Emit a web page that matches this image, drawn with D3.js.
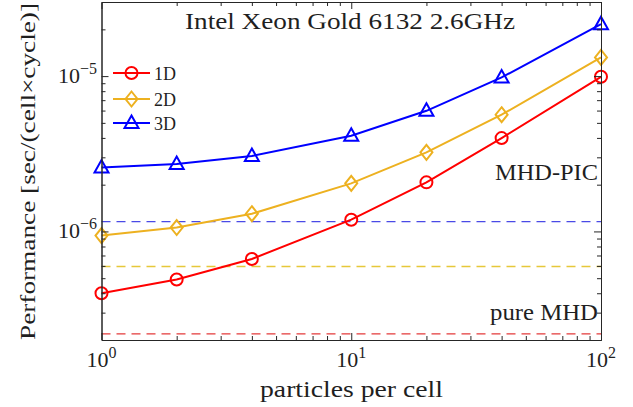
<!DOCTYPE html>
<html>
<head>
<meta charset="utf-8">
<script src="https://cdn.jsdelivr.net/npm/d3@7"></script>
<style>
  body { margin: 0; background: #fff; }
  text { font-family: "Liberation Serif", serif; fill: #1f1f1f; }
</style>
</head>
<body>
<svg id="chart" width="633" height="407"></svg>
<script>
// Particles per cell (x) and cost per cell per cycle (y)
const particles = [1, 2, 4, 10, 20, 40, 100];
const perf1D = [4.0e-7, 4.9e-7, 6.65e-7, 1.19e-6, 2.07e-6, 3.99e-6, 9.9e-6];
const perf2D = [9.4e-7, 1.06e-6, 1.30e-6, 2.04e-6, 3.23e-6, 5.64e-6, 1.32e-5];
const perf3D = [2.58e-6, 2.72e-6, 3.06e-6, 4.13e-6, 5.98e-6, 9.8e-6, 2.16e-5];
// Reference cost of the pure MHD runs (1D, 2D, 3D)
const pureMHD = [2.19e-7, 5.94e-7, 1.156e-6];
const seriesNames = ["1D", "2D", "3D"];
const xMajorTicks = [1, 10, 100];
const yMajorTicks = [1e-6, 1e-5];
const xMinorTicks = [2, 3, 4, 5, 6, 7, 8, 9, 20, 30, 40, 50, 60, 70, 80, 90];
const yMinorTicks = [3e-7, 4e-7, 5e-7, 6e-7, 7e-7, 8e-7, 9e-7,
                     2e-6, 3e-6, 4e-6, 5e-6, 6e-6, 7e-6, 8e-6, 9e-6, 2e-5];
const titleText = "Intel Xeon Gold 6132 2.6GHz";
const xLabel = "particles per cell";
const yLabel = "Performance [sec/(cell\u00d7cycle)]";

const lineColors = ["#ff0000", "#edb120", "#0000ff"];
const dashColors = ["#e33a3a", "#e6c83a", "#4a4ae6"];
const markers = ["circle", "diamond", "triangle"];

const svg = d3.select("#chart");
const plot = { left: 101.5, right: 601, top: 2, bottom: 340 };

const x = d3.scaleLog().domain([1, 100]).range([plot.left, plot.right]);
const y = d3.scaleLog().domain([2e-7, 3e-5]).range([plot.bottom, plot.top]);

const axisColor = "#262626";

// Reference pure-MHD levels (dashed)
svg.append("g").selectAll("line").data(pureMHD).join("line")
  .attr("x1", plot.left).attr("x2", plot.right)
  .attr("y1", d => y(d)).attr("y2", d => y(d))
  .attr("stroke", (d, i) => dashColors[i])
  .attr("stroke-width", 1.4)
  .attr("stroke-dasharray", "9,6");

// Marker shapes
function markerPath(kind) {
  if (kind === "circle") return d3.symbol(d3.symbolCircle, Math.PI * 6 * 6)();
  if (kind === "diamond") return "M0,-7.5L6,0L0,7.5L-6,0Z";
  return "M0,-7.5L7,5L-7,5Z";
}

const allSeries = [perf1D, perf2D, perf3D];
const line = d3.line().x((d, i) => x(particles[i])).y(d => y(d));

allSeries.forEach((vals, s) => {
  const g = svg.append("g");
  g.append("path").datum(vals)
    .attr("d", line)
    .attr("fill", "none")
    .attr("stroke", lineColors[s])
    .attr("stroke-width", 2);
  g.selectAll("path.m").data(vals).join("path")
    .attr("class", "m")
    .attr("transform", (d, i) => `translate(${x(particles[i])},${y(d)})`)
    .attr("d", markerPath(markers[s]))
    .attr("fill", "none")
    .attr("stroke", lineColors[s])
    .attr("stroke-width", 2);
});

// Axes: ticks point inward, box on all four sides
function styleAxis(g) {
  g.selectAll("path.domain").attr("stroke", axisColor);
  g.selectAll(".tick line").attr("stroke", axisColor);
  g.selectAll(".tick text").remove();
}
function addAxis(axisFn, pos, ticks, len) {
  const isX = axisFn === d3.axisBottom || axisFn === d3.axisTop;
  const scale = isX ? x : y;
  svg.append("g")
    .attr("transform", isX ? `translate(0,${pos})` : `translate(${pos},0)`)
    .call(axisFn(scale).tickValues(ticks).tickSizeInner(-len).tickSizeOuter(0).tickFormat(""))
    .call(styleAxis);
}
addAxis(d3.axisBottom, plot.bottom, xMajorTicks, 7);
addAxis(d3.axisBottom, plot.bottom, xMinorTicks, 4);
addAxis(d3.axisTop, plot.top, xMajorTicks, 7);
addAxis(d3.axisTop, plot.top, xMinorTicks, 4);
addAxis(d3.axisLeft, plot.left, yMajorTicks, 7);
addAxis(d3.axisLeft, plot.left, yMinorTicks, 4);
addAxis(d3.axisRight, plot.right, yMajorTicks, 7);
addAxis(d3.axisRight, plot.right, yMinorTicks, 4);

// Power-of-ten tick labels
const fmtExp = v => Math.round(Math.log10(v)).toString().replace("-", "\u2212");
function powerLabel(sel) {
  sel.style("font-size", "22px").each(function(d) {
    const t = d3.select(this);
    t.append("tspan").text("10");
    t.append("tspan").attr("dy", -9).style("font-size", "16px").text(fmtExp(d));
  });
}
svg.append("g").selectAll("text").data(xMajorTicks).join("text")
  .attr("x", d => x(d)).attr("y", 367)
  .attr("text-anchor", "middle")
  .call(powerLabel);
svg.append("g").selectAll("text").data(yMajorTicks).join("text")
  .attr("x", 97).attr("y", d => y(d) + 7)
  .attr("text-anchor", "end")
  .call(powerLabel);

// Titles and annotations
svg.append("text").attr("x", 185).attr("y", 29)
  .style("font-size", "23px")
  .attr("textLength", 330).attr("lengthAdjust", "spacingAndGlyphs")
  .text(titleText);
svg.append("text").attr("x", 260).attr("y", 397)
  .style("font-size", "23px")
  .attr("textLength", 183).attr("lengthAdjust", "spacingAndGlyphs")
  .text(xLabel);
svg.append("text")
  .attr("transform", "translate(35,340) rotate(-90)")
  .style("font-size", "22px")
  .attr("textLength", 337).attr("lengthAdjust", "spacingAndGlyphs")
  .text(yLabel);
svg.append("text").attr("x", 495).attr("y", 180)
  .style("font-size", "23px")
  .attr("textLength", 103).attr("lengthAdjust", "spacingAndGlyphs")
  .text("MHD-PIC");
svg.append("text").attr("x", 490).attr("y", 320)
  .style("font-size", "23px")
  .attr("textLength", 108).attr("lengthAdjust", "spacingAndGlyphs")
  .text("pure MHD");

// Legend
const legendRows = [73, 99, 123];
seriesNames.forEach((name, s) => {
  const g = svg.append("g").attr("transform", `translate(0,${legendRows[s]})`);
  g.append("line").attr("x1", 113).attr("x2", 150).attr("y1", 0).attr("y2", 0)
    .attr("stroke", lineColors[s]).attr("stroke-width", 2);
  g.append("path").attr("transform", "translate(131.5,0)")
    .attr("d", markerPath(markers[s]))
    .attr("fill", "none").attr("stroke", lineColors[s]).attr("stroke-width", 2);
  g.append("text").attr("x", 154).attr("y", 6.5)
    .style("font-size", "18px").text(name);
});
</script>
</body>
</html>
